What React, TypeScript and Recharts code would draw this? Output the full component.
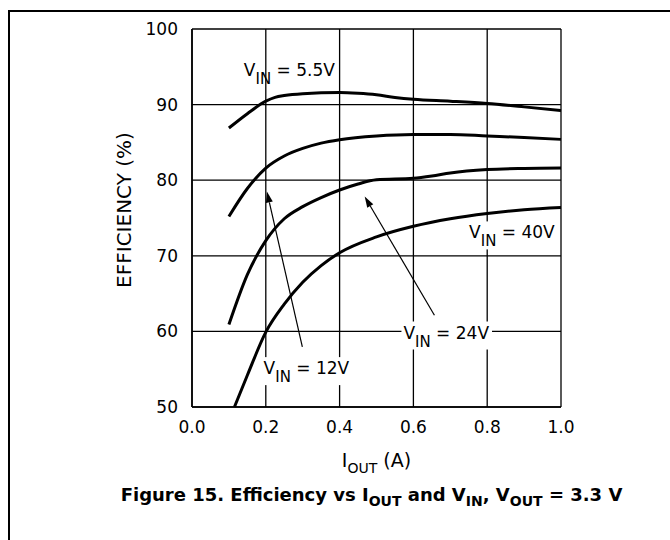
import React from 'react'
import { LineChart, Line, XAxis, YAxis, CartesianGrid, ReferenceDot, ReferenceLine } from 'recharts'

// efficiency curves, [I_OUT (A), efficiency %]
const vin55 = [
    [0.1, 86.9], [0.15, 88.8], [0.2, 90.45], [0.225, 90.95], [0.25, 91.2], [0.3, 91.45],
    [0.4, 91.6], [0.45, 91.5], [0.5, 91.3], [0.55, 90.95], [0.6, 90.7], [0.7, 90.45],
    [0.8, 90.15], [0.9, 89.7], [1.0, 89.2],
]
const vin12 = [
    [0.1, 75.2], [0.15, 78.9], [0.2, 81.6], [0.25, 83.2], [0.3, 84.2], [0.35, 84.9],
    [0.4, 85.35], [0.5, 85.85], [0.6, 86.05], [0.7, 86.05], [0.8, 85.85], [0.9, 85.65],
    [1.0, 85.4],
]
const vin24 = [
    [0.1, 60.9], [0.15, 67.5], [0.2, 72.0], [0.25, 74.9], [0.3, 76.5], [0.35, 77.7],
    [0.4, 78.7], [0.45, 79.5], [0.5, 80.05], [0.6, 80.25], [0.65, 80.55], [0.7, 80.95],
    [0.8, 81.4], [0.9, 81.55], [1.0, 81.6],
]
const vin40 = [
    [0.115, 50.0], [0.15, 54.2], [0.2, 59.9], [0.25, 63.6], [0.3, 66.5], [0.35, 68.7],
    [0.4, 70.4], [0.5, 72.5], [0.6, 73.9], [0.7, 74.9], [0.8, 75.6], [0.9, 76.1],
    [1.0, 76.4],
]
const series = [vin55, vin12, vin24, vin40]

const xTicks = [0, 0.2, 0.4, 0.6, 0.8, 1.0]
const yTicks = [50, 60, 70, 80, 90, 100]

// curve labels: text + where the text starts (data coords), boxed = white background
const curveLabels = [
    { rest: ' = 5.5V', x: 0.1405, y: 93.8, boxed: false },
    { rest: ' = 12V', x: 0.194, y: 54.35, boxed: true },
    { rest: ' = 24V', x: 0.573, y: 59.06, boxed: true },
    { rest: ' = 40V', x: 0.751, y: 72.3, boxed: true },
]
// pointer arrows: tip first, then tail
const arrows = [
    [{ x: 0.203, y: 78.5 }, { x: 0.299, y: 57.96 }],
    [{ x: 0.468, y: 77.84 }, { x: 0.657, y: 62.14 }],
]

const FONT = '"DejaVu Sans", sans-serif'
const MAIN = 17
const SUB = 15

// DejaVu Sans advance widths, per 1000 em
const widths: Record<string, number> = {
    V: 684, I: 295, N: 748, ' ': 318, '=': 838, '.': 318,
    '0': 636, '1': 636, '2': 636, '3': 636, '4': 636, '5': 636, '6': 636, '7': 636, '8': 636, '9': 636,
}
const textWidth = (s: string, size: number) =>
    s.split('').reduce((sum, c) => sum + (widths[c] ?? 600), 0) * size / 1000

const toPoints = (rows: number[][]) => rows.map(([x, y]) => ({ x, y }))

const VinLabel = ({ cx, cy, rest, boxed }: any) => {
    const w = textWidth('V', MAIN) + textWidth('IN', SUB) + textWidth(rest, MAIN)
    return (
        <g>
            {boxed && <rect x={cx - 2} y={cy - 17} width={w + 5} height={28} fill="#fff" />}
            <text x={cx} y={cy} fontFamily={FONT} fontSize={MAIN} fill="#000" style={{ whiteSpace: 'pre' }}>
                <tspan>V</tspan>
                <tspan fontSize={SUB} dy={8}>IN</tspan>
                <tspan dy={-8}>{rest}</tspan>
            </text>
        </g>
    )
}

const Arrow = ({ x1, y1, x2, y2 }: any) => {
    const ang = Math.atan2(y1 - y2, x1 - x2)
    const len = 11
    const half = 3.5
    const bx = x1 - len * Math.cos(ang)
    const by = y1 - len * Math.sin(ang)
    const px = -Math.sin(ang) * half
    const py = Math.cos(ang) * half
    return (
        <g>
            <line x1={bx} y1={by} x2={x2} y2={y2} stroke="#000" strokeWidth={1.2} />
            <polygon points={`${x1},${y1} ${bx + px},${by + py} ${bx - px},${by - py}`} fill="#000" />
        </g>
    )
}

const YTitle = ({ viewBox }: any) => {
    const x = viewBox.x - 8
    const y = viewBox.y + viewBox.height / 2 - 8
    return (
        <text x={x} y={y} transform={`rotate(-90, ${x}, ${y})`} textAnchor="middle" dominantBaseline="central"
            fontFamily={FONT} fontSize={20} fill="#000">
            EFFICIENCY (%)
        </text>
    )
}

const XTitle = ({ viewBox }: any) => {
    const cx = viewBox.x + viewBox.width / 2
    return (
        <g>
            <text x={cx} y={viewBox.y + 60} textAnchor="middle" fontFamily={FONT} fontSize={19} fill="#000"
                style={{ whiteSpace: 'pre' }}>
                <tspan>I</tspan>
                <tspan fontSize={14} dy={6}>OUT</tspan>
                <tspan dy={-6}> (A)</tspan>
            </text>
            <text x={cx - 5} y={viewBox.y + 94} textAnchor="middle" fontFamily={FONT} fontSize={18}
                fontWeight="bold" fill="#000" style={{ whiteSpace: 'pre' }}>
                <tspan>Figure 15. Efficiency vs I</tspan>
                <tspan fontSize={14} dy={5}>OUT</tspan>
                <tspan dy={-5}> and V</tspan>
                <tspan fontSize={14} dy={5}>IN</tspan>
                <tspan dy={-5}>, V</tspan>
                <tspan fontSize={14} dy={5}>OUT</tspan>
                <tspan dy={-5}> = 3.3 V</tspan>
            </text>
        </g>
    )
}

const App = () => {
    const tickStyle = { fill: '#000', fontSize: 17, fontFamily: FONT }
    return (
        <div style={{ position: 'absolute', left: 0, top: 0, width: 670, height: 540, background: '#fff' }}>
            <div style={{
                position: 'absolute', left: 8, top: 10, width: 662, height: 530,
                borderLeft: '2px solid #000', borderTop: '2px solid #000', boxSizing: 'border-box'
            }} />
            <div style={{ position: 'absolute', left: 0, top: 0 }}>
                <LineChart width={670} height={540} margin={{ top: 29, right: 109, bottom: 103, left: 132 }}>
                    <CartesianGrid stroke="#000" strokeWidth={1.3} />
                    <XAxis type="number" dataKey="x" domain={[0, 1]} ticks={xTicks}
                        tickFormatter={(v: number) => v.toFixed(1)} tick={tickStyle}
                        tickLine={false} tickSize={0} tickMargin={14} height={30}
                        axisLine={{ stroke: '#000', strokeWidth: 1.6 }}
                        label={{ content: XTitle }} />
                    <YAxis type="number" domain={[50, 100]} ticks={yTicks} tick={tickStyle}
                        tickLine={false} tickSize={0} tickMargin={14} width={60}
                        axisLine={{ stroke: '#000', strokeWidth: 1.6 }}
                        label={{ content: YTitle }} />
                    {series.map((s, i) => (
                        <Line key={i} data={toPoints(s)} dataKey="y" type="monotone" stroke="#000"
                            strokeWidth={3} dot={false} activeDot={false} isAnimationActive={false} />
                    ))}
                    {arrows.map((seg, i) => (
                        <ReferenceLine key={`a${i}`} segment={seg} shape={Arrow} />
                    ))}
                    {curveLabels.map((l, i) => (
                        <ReferenceDot key={`l${i}`} x={l.x} y={l.y} r={0}
                            shape={(p: any) => <VinLabel {...p} rest={l.rest} boxed={l.boxed} />} />
                    ))}
                </LineChart>
            </div>
        </div>
    )
}

export default App
